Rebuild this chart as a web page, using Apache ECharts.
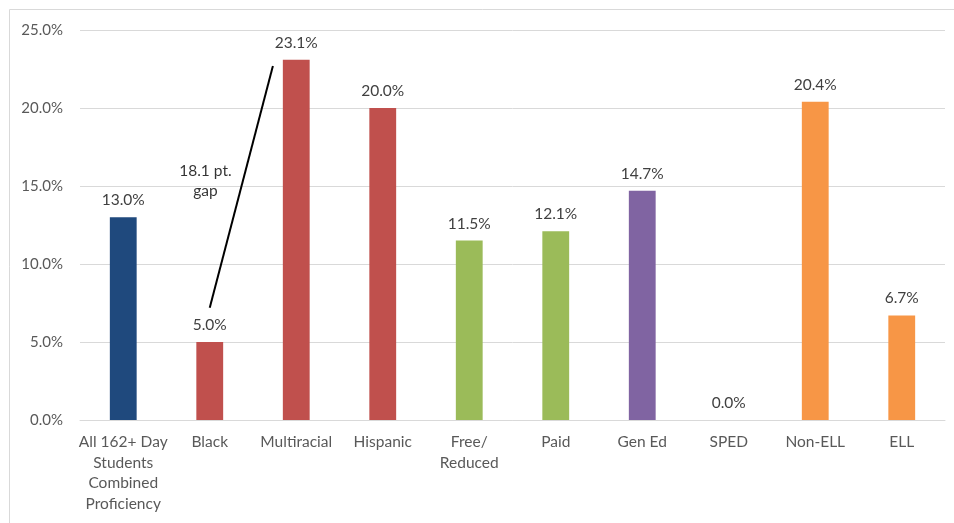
<!DOCTYPE html>
<html><head><meta charset="utf-8">
<script src="https://cdn.jsdelivr.net/npm/echarts@6/dist/echarts.min.js"></script>
<style>html,body{margin:0;padding:0;background:#fff}#c{width:954px;height:523px}</style>
</head><body><div id="c"></div>
<script>
const categories = ["All 162+ Day\nStudents\nCombined\nProficiency","Black","Multiracial","Hispanic","Free/\nReduced","Paid","Gen Ed","SPED","Non-ELL","ELL"];
const values = [13.0, 5.0, 23.1, 20.0, 11.5, 12.1, 14.7, 0.0, 20.4, 6.7];
const barColors = ["#1F497D","#C0504D","#C0504D","#C0504D","#9BBB59","#9BBB59","#8064A2","#8064A2","#F79646","#F79646"];
const yTicks = {min: 0, max: 25, interval: 5};
const gapLine = [[1, 7.2], [1.73, 22.7]];
const gapNote = [[0.95, 15.3, "18.1 pt.\ngap"]];

const font = "Lato, 'Open Sans', sans-serif";
const chart = echarts.init(document.getElementById('c'), null, {renderer: 'canvas'});
chart.setOption({
  animation: false,
  graphic: [{type:'rect', shape:{x:9.5, y:9.5, width:1000, height:1000}, style:{fill:'none', stroke:'#d9d9d9', lineWidth:1}, silent:true}],
  grid: {left: 80, right: 9, top: 30, bottom: 103},
  xAxis: [
    {type:'category', data: categories, axisTick:{show:false},
     axisLine:{lineStyle:{color:'#d9d9d9', width:1}},
     axisLabel:{color:'#595959', fontFamily:font, fontSize:15.5, lineHeight:20.5, margin:12, interval:0}},
    {type:'value', min:-0.5, max:9.5, show:false}
  ],
  yAxis: {type:'value', min: yTicks.min, max: yTicks.max, interval: yTicks.interval,
    axisLine:{show:false}, axisTick:{show:false},
    splitLine:{lineStyle:{color:'#d9d9d9', width:1}},
    axisLabel:{color:'#595959', fontFamily:font, fontSize:15, margin:17, formatter: v => v.toFixed(1)+'%'}},
  series: [
    {type:'bar', xAxisIndex:0, barWidth:'31%',
     data: values.map((v,i)=>({value:v, itemStyle:{color:barColors[i]}})),
     label:{show:true, position:'top', distance:9, color:'#404040', fontFamily:font, fontSize:15.5,
            formatter: p => p.value.toFixed(1)+'%'}},
    {type:'line', xAxisIndex:1, data: gapLine, symbol:'none', lineStyle:{color:'#000', width:2}, z:5},
    {type:'scatter', xAxisIndex:1, data: gapNote, symbolSize:0,
     label:{show:true, position:'inside', formatter: p => p.data[2], color:'#000', fontFamily:font, fontSize:15.5, lineHeight:20}}
  ]
});
</script></body></html>
